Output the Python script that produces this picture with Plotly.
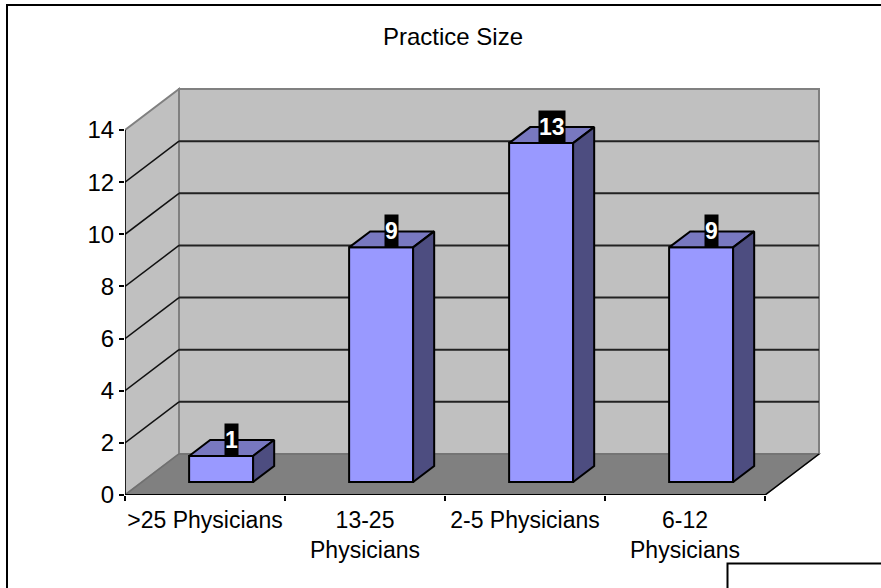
import plotly.graph_objects as go

categories = [">25 Physicians", "13-25<br>Physicians", "2-5 Physicians", "6-12<br>Physicians"]
values = [1, 9, 13, 9]
y_ticks = [0, 2, 4, 6, 8, 10, 12, 14]
title = "Practice Size"

W, H = 881, 588
PX_L, PX_B = 125, 495          # plot origin in pixels
PX_CAT, PX_UNIT = 160.0, 26.07  # pixels per category / per value unit
DX = 54 / PX_CAT               # depth offset in category units
DY = 41 / PX_UNIT              # depth offset in value units
D0, D1 = 0.317, 0.707          # bar depth extent (0 = front, 1 = back)
BAR_W = 0.4
BAR_SHIFT = -1 / PX_CAT
N = len(categories)
Y_MAX = max(y_ticks)

WALL = "#C0C0C0"; FLOOR = "#808080"; EDGE = "#808080"
FRONT = "#9999FF"; TOP = "#7878C0"; SIDE = "#4D4D80"


def P(c, v, d):
    return c + d * DX, v + d * DY


def path(pts):
    return "M " + " L ".join(f"{x},{y}" for x, y in pts) + " Z"


def px(x):
    return (x - PX_L) / (W - PX_L)


def py(y):
    return (PX_B - y) / PX_B


shapes = []


def poly(pts, fill, line=None, width=0):
    shapes.append(dict(type="path", path=path(pts), xref="x", yref="y", layer="below",
                       fillcolor=fill, line=dict(color=line or fill, width=width)))


def seg(a, b, color, width):
    shapes.append(dict(type="line", xref="x", yref="y", layer="below", x0=a[0], y0=a[1], x1=b[0], y1=b[1],
                       line=dict(color=color, width=width)))


# walls and floor
poly([P(0, 0, 1), P(N, 0, 1), P(N, Y_MAX, 1), P(0, Y_MAX, 1)], WALL, EDGE, 2)
poly([P(0, 0, 0), P(0, 0, 1), P(0, Y_MAX, 1), P(0, Y_MAX, 0)], WALL, EDGE, 2)
poly([P(0, 0, 0), P(N, 0, 0), P(N, 0, 1), P(0, 0, 1)], FLOOR, "#707070", 1.5)

# gridlines
for t in y_ticks[1:-1]:
    seg(P(0, t, 0), P(0, t, 1), "#111111", 1.5)
    seg(P(0, t, 1), P(N, t, 1), "#222222", 2)

# axis lines
seg(P(0, 0, 0), P(0, Y_MAX, 0), "#000000", 1.5)
seg(P(0, 0, 0), P(N, 0, 0), "#000000", 2)
seg(P(N, 0, 0), P(N, 0, 1), "#000000", 1.5)

fig = go.Figure()

label_centers = [i + 0.5 for i in range(N)]
centers = [c + BAR_SHIFT for c in label_centers]
fx = [c + D0 * DX for c in centers]
base_y = D0 * DY
fig.add_trace(go.Bar(x=fx, y=values, base=[base_y] * N, width=BAR_W,
                     marker=dict(color=FRONT, line=dict(color="black", width=2)),
                     showlegend=False, hoverinfo="skip"))

for c, v in zip(centers, values):
    l, r = c - BAR_W / 2, c + BAR_W / 2
    top = [P(l, v, D0), P(r, v, D0), P(r, v, D1), P(l, v, D1), P(l, v, D0)]
    side = [P(r, 0, D0), P(r, 0, D1), P(r, v, D1), P(r, v, D0), P(r, 0, D0)]
    for pts, col in ((top, TOP), (side, SIDE)):
        fig.add_trace(go.Scatter(x=[p[0] for p in pts], y=[p[1] for p in pts], mode="lines",
                                 fill="toself", fillcolor=col, line=dict(color="black", width=2),
                                 showlegend=False, hoverinfo="skip"))

annotations = []
for c, v in zip(centers, values):
    x, _ = P(c, v, (D0 + D1) / 2)
    annotations.append(dict(x=x, y=v + D0 * DY, xref="x", yref="y", text=f"<b>{v}</b>", showarrow=False,
                            yanchor="bottom", xanchor="center", bgcolor="black", height=32, borderpad=0, yshift=-1,
                            font=dict(family="Liberation Sans", size=23, color="white")))

# outer frame and the white box at the bottom right
shapes.append(dict(type="path", xref="paper", yref="paper", layer="above",
                   path=f"M {px(7)},{py(600)} L {px(7)},{py(5)} L {px(900)},{py(5)}",
                   line=dict(color="black", width=2)))
shapes.append(dict(type="rect", xref="paper", yref="paper", layer="above",
                   x0=px(727.5), x1=px(900), y0=py(600), y1=py(563.5), fillcolor="white",
                   line=dict(color="black", width=2)))

fig.update_layout(
    width=W, height=H, autosize=False, showlegend=False,
    paper_bgcolor="white", plot_bgcolor="rgba(0,0,0,0)",
    margin=dict(l=PX_L, r=0, t=0, b=H - PX_B),
    font=dict(family="Liberation Sans", size=23, color="black"),
    title=dict(text=title, x=453 / W, xanchor="center", y=1 - 37 / H, yanchor="middle", yref="container",
               font=dict(family="Liberation Sans", size=24, color="black")),
    shapes=shapes, annotations=annotations,
    xaxis=dict(range=[0, (W - PX_L) / PX_CAT], tickmode="array", tickvals=label_centers, ticktext=categories,
               ticks="", showgrid=False, zeroline=False, showline=False, ticklabelstandoff=9,
               tickangle=0, tickfont=dict(size=23),
               minor=dict(tickmode="array", tickvals=list(range(N + 1)), ticks="outside", ticklen=5,
                          tickwidth=1.5, tickcolor="black", showgrid=False)),
    yaxis=dict(range=[0, PX_B / PX_UNIT], tickmode="array", tickvals=y_ticks, ticks="outside", ticklen=5,
               tickwidth=1.5, tickcolor="black", showgrid=False, zeroline=False, showline=False,
               tickfont=dict(size=24)),
)

fig.write_html("out.html", config={"displayModeBar": False},
               post_script="document.body.style.margin='0';document.documentElement.style.overflow='hidden';")
